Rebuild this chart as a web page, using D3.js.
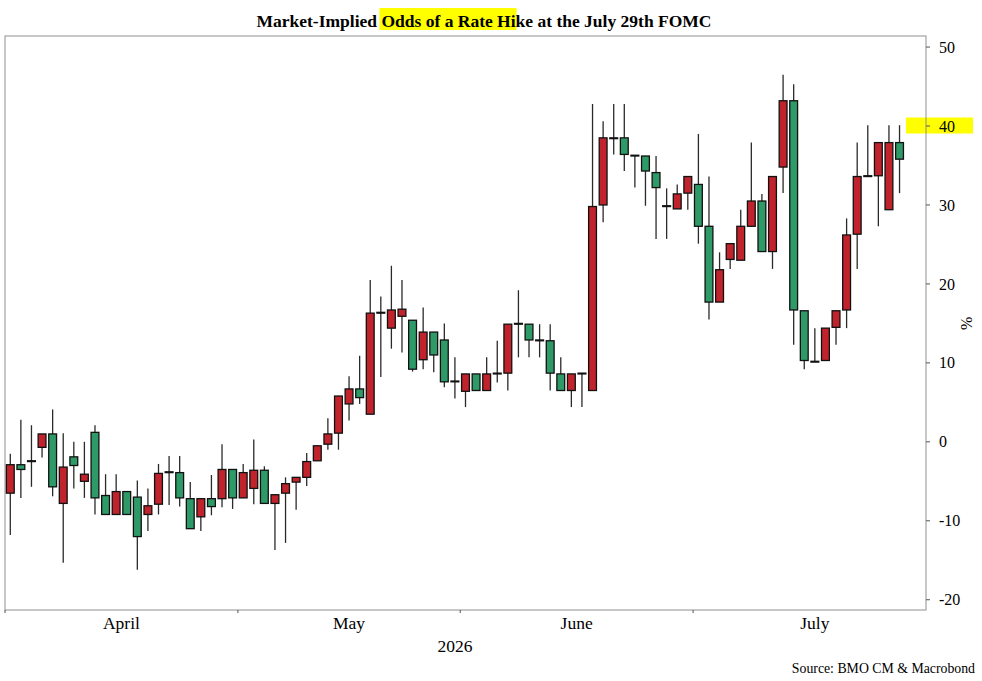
<!DOCTYPE html>
<html>
<head>
<meta charset="utf-8">
<script src="https://cdn.jsdelivr.net/npm/d3@7"></script>
<style>
  body { margin: 0; background: #fff; }
  svg { display: block; font-family: "Liberation Serif", "Times New Roman", serif; }
</style>
</head>
<body>
<svg id="chart"></svg>
<script>
// trading days, Apr 1 - Jul 28 2026 (in %)
const openVals = [
  -6.5, -2.9, -2.4, -0.7, 1.0, -7.8, -1.9, -5.0, 1.2, -6.8,
  -9.2, -6.3, -7.0, -9.2, -7.9, -3.8, -3.9, -7.2, -9.5, -7.2,
  -7.2, -3.5, -7.1, -5.9, -3.6, -7.8, -6.5, -5.1, -4.5, -2.4,
  -0.3, 1.1, 4.8, 6.7, 3.5, 16.4, 14.4, 15.9, 15.4, 10.4,
  13.9, 12.9, 7.7, 6.4, 8.6, 6.5, 8.7, 8.7, 15.0, 14.9,
  12.9, 12.8, 8.6, 6.5, 8.7, 6.5, 30.0, 38.5, 38.5, 36.3,
  36.2, 34.1, 29.9, 29.5, 31.5, 32.6, 27.3, 17.7, 23.1, 23.0,
  27.3, 30.5, 24.1, 34.8, 43.2, 16.6, 10.2, 10.3, 14.5, 16.7,
  26.3, 33.7, 33.7, 29.4, 37.9
];
const closeVals = [
  -2.9, -3.5, -2.4, 1.0, -5.7, -3.2, -3.0, -4.1, -7.1, -9.2,
  -6.3, -9.2, -12.0, -8.1, -4.0, -3.8, -7.1, -11.0, -7.2, -8.2,
  -3.5, -7.1, -3.9, -3.6, -7.8, -6.7, -5.3, -4.5, -2.5, -0.5,
  1.0, 5.8, 6.7, 5.6, 16.3, 16.4, 16.7, 16.8, 9.2, 13.9,
  11.0, 7.6, 7.7, 8.6, 6.5, 8.6, 8.7, 14.9, 15.0, 12.9,
  12.9, 8.7, 6.5, 8.6, 8.7, 29.8, 38.5, 38.5, 36.4, 36.3,
  34.3, 32.2, 29.9, 31.4, 33.6, 27.3, 17.7, 21.8, 25.1, 27.3,
  30.5, 24.1, 33.6, 43.2, 16.7, 10.3, 10.2, 14.4, 16.6, 26.2,
  33.6, 33.7, 37.9, 37.9, 35.8
];
const highVals = [
  -1.5, 2.8, 2.1, 1.0, 4.1, 1.1, 0.0, 0.0, 2.1, -4.1,
  -4.1, -6.3, -4.9, -5.9, -2.8, -1.8, -1.8, -5.1, -7.2, -4.2,
  -0.3, -3.5, -2.8, 0.3, -3.1, -6.7, -4.5, -4.5, -1.4, -0.5,
  3.0, 5.8, 8.3, 10.9, 20.5, 18.4, 22.3, 20.5, 15.4, 17.0,
  13.9, 15.0, 10.7, 8.6, 8.6, 10.7, 12.8, 14.9, 19.2, 14.9,
  14.9, 14.9, 10.7, 8.6, 8.7, 42.8, 40.6, 42.8, 42.8, 36.3,
  36.2, 36.2, 32.1, 32.6, 33.6, 39.0, 33.6, 24.0, 25.1, 29.4,
  37.9, 31.4, 33.6, 46.5, 45.3, 16.6, 14.4, 14.4, 16.6, 28.3,
  37.9, 40.1, 37.9, 40.1, 40.1
];
const lowVals = [
  -11.8, -7.1, -5.7, -2.0, -6.9, -15.3, -5.9, -7.1, -9.2, -9.2,
  -9.2, -9.2, -16.2, -11.3, -9.2, -8.0, -8.2, -11.0, -11.3, -9.3,
  -8.3, -8.5, -7.1, -7.9, -7.8, -13.7, -12.8, -8.6, -5.6, -2.4,
  -1.0, -1.0, 2.7, 4.8, 3.5, 8.2, 11.8, 11.3, 8.9, 9.2,
  8.8, 6.9, 5.5, 4.4, 6.5, 6.5, 7.5, 6.5, 10.7, 10.7,
  10.7, 6.5, 6.5, 4.4, 4.4, 6.5, 27.8, 36.4, 34.3, 32.2,
  29.9, 25.7, 25.7, 29.5, 29.4, 25.1, 15.5, 17.7, 21.9, 23.0,
  27.3, 24.1, 21.9, 31.5, 12.3, 9.2, 10.2, 10.3, 12.3, 14.4,
  21.9, 33.7, 27.3, 29.4, 31.5
];
const months = ["April", "May", "June", "July"];
const yTicks = [-20, -10, 0, 10, 20, 30, 40, 50];
const yearLabel = "2026";
const titleText = "Market-Implied Odds of a Rate Hike at the July 29th FOMC";
const titleMarked = "Odds of a Rate Hi";
const sourceText = "Source: BMO CM & Macrobond";
const markedTick = 40;

const width = 982, height = 681;
const frame = { left: 5, right: 926, top: 36, bottom: 610 };
const red = "#c0232c", green = "#2e9a68";

// weekday calendar for the months shown
const isWeekday = d => d.getUTCDay() !== 0 && d.getUTCDay() !== 6;
const calendar = d3.utcDay.range(new Date(Date.UTC(2026, 3, 1)), new Date(Date.UTC(2026, 7, 1))).filter(isWeekday);
const data = openVals.map((o, i) => ({
  i, date: calendar[i], open: o, close: closeVals[i], high: highVals[i], low: lowVals[i]
}));

const svg = d3.select("#chart").attr("width", width).attr("height", height);

const x = d3.scaleLinear().domain([-0.5, 86.5]).range([frame.left, frame.right]);
const y = d3.scaleLinear().domain([-21.3, 51.4]).range([frame.bottom, frame.top]);
const step = x(1) - x(0);
const bodyW = step * 0.74;

// highlight behind the 40 label
svg.append("rect")
  .attr("x", frame.right - 20).attr("y", y(markedTick) - 8.5)
  .attr("width", 67).attr("height", 16)
  .attr("fill", "#ffff00");

// frame
svg.append("rect")
  .attr("x", frame.left).attr("y", frame.top)
  .attr("width", frame.right - frame.left).attr("height", frame.bottom - frame.top)
  .attr("fill", "none").attr("stroke", "#8f8f8f").attr("stroke-width", 1);

// candles
const candles = svg.append("g").selectAll("g")
  .data(data)
  .join("g")
  .attr("transform", d => `translate(${x(d.i)},0)`);

candles.append("line")
  .attr("y1", d => y(d.high)).attr("y2", d => y(d.low))
  .attr("stroke", "#2a2a2a").attr("stroke-width", 1.3);

candles.append("rect")
  .attr("x", -bodyW / 2)
  .attr("width", bodyW)
  .attr("y", d => y(Math.max(d.open, d.close)))
  .attr("height", d => Math.max(0.8, Math.abs(y(d.open) - y(d.close))))
  .attr("fill", d => d.close > d.open ? red : d.close < d.open ? green : "#000")
  .attr("stroke", "#111").attr("stroke-width", 1.3);

// right axis
const yAxis = svg.append("g").attr("font-size", 16);
yAxis.selectAll("line").data(yTicks).join("line")
  .attr("x1", frame.right).attr("x2", frame.right + 4)
  .attr("y1", d => y(d)).attr("y2", d => y(d))
  .attr("stroke", "#555");
yAxis.selectAll("text").data(yTicks).join("text")
  .attr("x", frame.right + 13).attr("y", d => y(d)).attr("dy", "0.35em")
  .text(d => d);

svg.append("text")
  .attr("transform", `translate(${frame.right + 46},${y(15)}) rotate(-90)`)
  .attr("text-anchor", "middle").attr("font-size", 16)
  .text("%");

// month axis: ticks at month boundaries, labels centred in each month
const monthIdx = d3.groups(calendar.map((d, i) => ({ m: d.getUTCMonth(), i })), d => d.m)
  .map(([m, v]) => ({ name: months[m - 3], start: v[0].i - 0.5, end: v[v.length - 1].i + 0.5 }));

svg.append("g").selectAll("line").data(monthIdx).join("line")
  .attr("x1", d => x(d.start)).attr("x2", d => x(d.start))
  .attr("y1", frame.bottom).attr("y2", frame.bottom + 3)
  .attr("stroke", "#555");

svg.append("g").attr("font-size", 17.5).attr("text-anchor", "middle")
  .selectAll("text").data(monthIdx).join("text")
  .attr("x", d => x((d.start + d.end) / 2)).attr("y", 629)
  .text(d => d.name);

svg.append("text")
  .attr("x", x(42)).attr("y", 652)
  .attr("text-anchor", "middle").attr("font-size", 17.5)
  .text(yearLabel);

// title with marker highlight
const titleG = svg.append("g");
const titleMark = titleG.append("rect").attr("fill", "#ffff00");
const title = titleG.append("text")
  .attr("x", 484).attr("y", 27)
  .attr("text-anchor", "middle")
  .attr("font-size", 17.5).attr("font-weight", "bold")
  .text(titleText);
const tNode = title.node();
const k = titleText.indexOf(titleMarked);
const tStart = 484 - tNode.getComputedTextLength() / 2;
titleMark
  .attr("x", tStart + tNode.getSubStringLength(0, k) - 2)
  .attr("width", tNode.getSubStringLength(k, titleMarked.length) + 3)
  .attr("y", 8).attr("height", 22);

svg.append("text")
  .attr("x", 975).attr("y", 673)
  .attr("text-anchor", "end").attr("font-size", 13.8)
  .text(sourceText);
</script>
</body>
</html>
